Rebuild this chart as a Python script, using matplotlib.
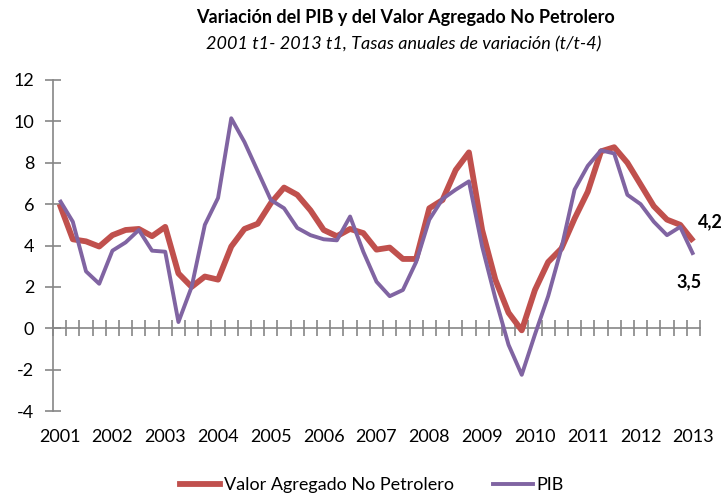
import matplotlib.pyplot as plt
import matplotlib.transforms as mtransforms
from matplotlib.lines import Line2D

plt.rcParams['font.family'] = ['Lato', 'DejaVu Sans']

# Datos trimestrales 2001 t1 - 2013 t1
anios = [str(a) for a in range(2001, 2014)]

vanp = [6.0, 4.3, 4.2, 3.95, 4.5, 4.75, 4.8, 4.45, 4.9, 2.65, 2.0, 2.5, 2.35,
        3.95, 4.8, 5.05, 6.05, 6.8, 6.45, 5.7, 4.75, 4.45, 4.8, 4.6,
        3.8, 3.9, 3.35, 3.35, 5.8, 6.2, 7.65, 8.5, 4.75, 2.35, 0.75, -0.1,
        1.85, 3.2, 3.85, 5.3, 6.6, 8.55, 8.75, 8.0, 6.95, 5.9, 5.25, 5.0, 4.2]

pib = [6.2, 5.15, 2.75, 2.15, 3.75, 4.15, 4.75, 3.75, 3.7, 0.3, 2.0, 5.0, 6.3,
       10.15, 9.0, 7.6, 6.2, 5.8, 4.85, 4.5, 4.3, 4.25, 5.4, 3.7,
       2.25, 1.55, 1.85, 3.2, 5.25, 6.25, 6.7, 7.1, 3.95, 1.45, -0.8, -2.25,
       -0.3, 1.55, 3.85, 6.7, 7.85, 8.6, 8.45, 6.45, 6.0, 5.15, 4.5, 4.9, 3.55]

rojo = "#C0504D"
morado = "#8064A2"
gris = "#868686"

fig = plt.figure(figsize=(7.24, 4.97), dpi=100)
ax = fig.add_axes([53 / 724, 1 - 411 / 497, 647 / 724, 331 / 497])

x = list(range(len(pib)))
ax.plot(x, vanp, color=rojo, lw=4.2, solid_capstyle="butt", zorder=3)
ax.plot(x, pib, color=morado, lw=2.8, solid_capstyle="butt", zorder=4)

ax.set_xlim(-0.5, len(pib) - 0.5)
ax.set_ylim(-4, 12)

# ejes estilo Excel
for s in ["top", "right"]:
    ax.spines[s].set_visible(False)
ax.spines["bottom"].set_position(("data", 0))
ax.spines["bottom"].set_color(gris)
ax.spines["left"].set_color(gris)
ax.spines["bottom"].set_linewidth(1.2)
ax.spines["left"].set_linewidth(1.2)

ax.set_yticks(range(-4, 13, 2))
ax.set_yticklabels([str(v) for v in range(-4, 13, 2)])
ax.tick_params(axis="y", direction="inout", length=11, width=1.2, color=gris,
               labelsize=13, pad=8)

ax.set_xticks([i - 0.5 for i in range(len(pib) + 1)])
ax.set_xticklabels([])
ax.tick_params(axis="x", direction="inout", length=11, width=1.2, color=gris)

trans = mtransforms.blended_transform_factory(ax.transData, ax.transAxes)
for k, a in enumerate(anios):
    ax.text(k * 4, -0.078, a, transform=trans, ha="center", va="center", fontsize=13)

# etiquetas finales
ax.text(49.3, 5.13, "4,2", fontsize=13, fontweight="bold", ha="center", va="center")
ax.text(47.7, 2.25, "3,5", fontsize=13, fontweight="bold", ha="center", va="center")

fig.text(0.56, 1 - 17 / 497, "Variación del PIB y del Valor Agregado No Petrolero",
         ha="center", va="center", fontsize=13, fontweight="bold")
fig.text(0.557, 1 - 44 / 497, "2001 t1- 2013 t1, Tasas anuales de variación (t/t-4)",
         ha="center", va="center", fontsize=13, style="italic")

handles = [Line2D([], [], color=rojo, lw=4.2), Line2D([], [], color=morado, lw=2.8)]
fig.legend(handles, ["Valor Agregado No Petrolero", "PIB"], loc="center",
           bbox_to_anchor=(372 / 724, 1 - 485 / 497), ncol=2, frameon=False,
           fontsize=13, handlelength=2.2, handletextpad=0.2, columnspacing=2.2)

fig.savefig("out.png", dpi=100)
